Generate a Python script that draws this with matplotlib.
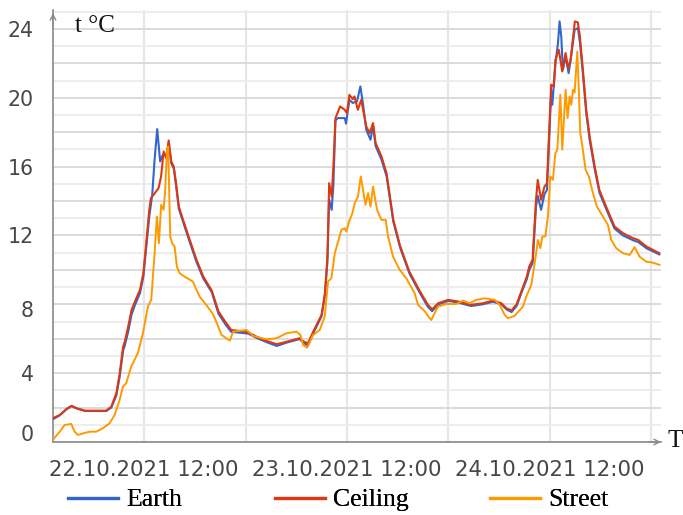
import matplotlib
matplotlib.use("Agg")
import matplotlib.pyplot as plt
from matplotlib.lines import Line2D
import matplotlib.transforms as mtransforms

# ---------------- data (hours since 22.10.2021 00:00, temperature °C) ----------------
t_earth = [1.3, 2.0, 2.8, 3.4, 4.0, 5.0, 7.5, 8.1, 8.7, 9.1, 9.5, 9.7, 10.1, 10.5, 10.9, 11.5, 11.9,
           12.2, 12.6, 12.95, 13.23, 13.54, 13.89, 14.21, 14.6, 14.9, 15.2, 15.5, 15.8, 16.1, 16.6,
           17.4, 18.2, 19.0, 20.0, 20.8, 21.6, 22.3, 23.3, 24.3, 25.3, 26.5, 27.7, 28.9, 30.4, 30.9,
           31.4, 32.0, 32.6, 33.0, 33.4, 33.7, 33.9, 34.2, 34.4, 34.65, 34.96, 35.75, 35.9, 36.3,
           36.7, 37.2, 37.6, 37.9, 38.3, 38.8, 39.1, 39.4, 40.1, 40.7, 41.5, 42.3, 43.4, 44.6, 45.6,
           46.1, 46.8, 48.0, 49.2, 50.7, 52.1, 53.3, 54.3, 54.9, 55.5, 56.1, 56.7, 57.3, 57.6, 58.0,
           58.1, 58.4, 58.6, 59.0, 59.4, 59.7, 59.9, 60.2, 60.33, 60.7, 61.0, 61.19, 61.39, 61.58,
           61.9, 62.26, 62.5, 62.97, 63.36, 63.6, 63.95, 64.35, 64.75, 65.35, 65.9, 66.7, 67.7,
           68.7, 69.9, 70.5, 71.5, 73.0]
v_earth = [1.35, 1.55, 1.92, 2.1, 1.95, 1.8, 1.8, 2.0, 2.7, 3.8, 5.3, 5.6, 6.4, 7.4, 7.95, 8.65, 9.6,
           11.1, 13.1, 14.36, 16.4, 18.18, 16.3, 16.69, 16.6, 17.36, 16.2, 15.9, 14.8, 13.55, 12.8,
           11.6, 10.45, 9.5, 8.7, 7.45, 6.85, 6.4, 6.35, 6.3, 6.05, 5.8, 5.58, 5.78, 5.98, 5.75,
           5.6, 6.3, 6.9, 7.3, 8.5, 10.5, 14.1, 13.49, 14.9, 18.7, 18.82, 18.82, 18.5, 19.88,
           19.7, 19.79, 20.66, 19.69, 18.14, 17.56, 18.4, 17.2, 16.4, 15.45, 12.8, 11.3, 9.8, 8.7, 7.85,
           7.6, 7.98, 8.2, 8.1, 7.9, 8.0, 8.15, 8.0, 7.7, 7.55, 7.9, 8.7, 9.45, 10.0, 10.4,
           11.2, 13.7, 14.3, 13.49, 14.4, 14.65, 17.0, 20.4, 19.59, 22.0, 23.18, 24.44, 23.56, 21.63,
           22.4, 21.43, 22.2, 23.95, 24.05, 23.2, 21.4, 19.1, 17.55, 15.85, 14.5, 13.55, 12.4,
           12.0, 11.72, 11.62, 11.25, 10.9]

t_ceiling = [1.3, 2.0, 2.8, 3.4, 4.0, 5.0, 7.5, 8.1, 8.7, 9.1, 9.5, 9.7, 10.1, 10.5, 10.9, 11.5, 11.9,
             12.2, 12.6, 12.8, 13.4, 13.7, 14.0, 14.3, 14.6, 14.9, 15.2, 15.5, 15.8, 16.1, 16.6, 17.4,
             18.2, 19.0, 20.0, 20.8, 21.6, 22.3, 23.3, 24.3, 25.3, 26.5, 27.7, 28.9, 30.4, 30.9, 31.4,
             32.0, 32.6, 33.0, 33.4, 33.7, 33.9, 34.2, 34.4, 34.65, 35.2, 35.75, 36.0, 36.3, 36.7,
             36.9, 37.3, 37.7, 38.3, 38.7, 39.1, 39.4, 40.1, 40.7, 41.5, 42.3, 43.4, 44.6, 45.6, 46.1,
             46.8, 48.0, 49.2, 50.7, 52.1, 53.3, 54.3, 54.9, 55.5, 56.1, 56.7, 57.3, 57.6, 58.0, 58.1,
             58.4, 58.6, 59.0, 59.4, 59.7, 59.9, 60.2, 60.5, 60.7, 61.1, 61.5, 61.9, 62.2, 62.5, 62.8,
             63.0, 63.35, 63.6, 63.95, 64.35, 64.75, 65.35, 65.9, 66.7, 67.7, 68.7, 69.9, 70.5, 71.5,
             73.0]
v_ceiling = [1.41, 1.57, 1.90, 2.09, 1.96, 1.82, 1.82, 2.05, 2.83, 3.99, 5.54, 5.83, 6.70, 7.67, 8.16,
             8.84, 9.81, 11.35, 13.49, 14.17, 14.55, 14.75, 15.43, 16.88, 16.49, 17.52, 16.30, 16.0,
             14.94, 13.68, 12.91, 11.74, 10.58, 9.61, 8.80, 7.58, 6.99, 6.51, 6.45, 6.38, 6.12, 5.87,
             5.68, 5.83, 6.03, 5.83, 5.74, 6.4, 6.99, 7.38, 8.64, 10.77, 15.04, 14.26, 16.0, 18.82,
             19.5, 19.3, 19.11, 20.17, 19.92, 20.08, 19.3, 19.88, 18.33, 17.95, 18.53, 17.37, 16.59,
             15.62, 12.91, 11.4, 9.9, 8.8, 7.97, 7.71, 8.06, 8.26, 8.16, 7.97, 8.06, 8.22, 8.06, 7.77,
             7.64, 8.0, 8.8, 9.6, 10.2, 10.6, 11.55, 14.07, 15.23, 14.07, 14.84, 15.04, 17.37, 20.76,
             20.66, 22.21, 22.79, 21.53, 22.6, 21.73, 22.21, 23.56, 24.44, 24.38, 23.56, 21.63, 19.3,
             17.75, 16.0, 14.65, 13.68, 12.52, 12.13, 11.84, 11.74, 11.35, 10.97]

t_street = [1.32, 2.0, 2.58, 3.36, 3.76, 4.15, 4.75, 5.54, 6.32, 7.11, 7.9, 8.5, 9.09, 9.48, 9.87,
            10.46, 11.25, 11.85, 12.44, 12.83, 13.23, 13.5, 13.74, 14.01, 14.3, 14.49, 14.69, 14.84,
            15.08, 15.31, 15.6, 15.87, 16.19, 16.78, 17.76, 18.56, 19.34, 20.05, 20.37, 21.16, 22.14,
            22.53, 24.12, 24.9, 26.48, 27.67, 28.85, 30.03, 30.51, 30.82, 31.29, 32.0, 32.79, 33.38,
            33.77, 34.17, 34.57, 34.96, 35.36, 35.75, 35.95, 36.26, 36.66, 36.93, 37.32, 37.64, 37.92,
            38.2, 38.51, 38.8, 39.1, 39.57, 40.09, 40.6, 40.88, 41.47, 42.26, 43.05, 44.03, 44.42,
            45.22, 45.81, 46.0, 46.4, 46.79, 47.79, 48.97, 49.75, 50.54, 51.33, 52.32, 53.5, 54.09,
            54.69, 55.07, 55.87, 56.85, 57.25, 57.84, 58.24, 58.63, 58.91, 59.15, 59.5, 59.81, 60.09,
            60.4, 60.69, 60.92, 61.28, 61.51, 61.71, 61.9, 62.14, 62.38, 62.58, 62.77, 62.97, 63.29,
            63.48, 63.64, 63.95, 64.27, 64.66, 65.14, 65.61, 66.32, 66.91, 67.31, 67.9, 68.69, 69.48,
            70.07, 70.66, 71.45, 72.23, 73.03]
v_street = [0.21, 0.6, 0.99, 1.05, 0.6, 0.41, 0.5, 0.6, 0.6, 0.8, 1.09, 1.57, 2.44, 3.22, 3.41,
            4.38, 5.16, 6.32, 7.87, 8.26, 10.97, 13.1, 11.55, 13.78, 13.49, 14.65, 16.88, 17.17,
            11.94, 11.55, 11.35, 10.19, 9.81, 9.61, 9.32, 8.45, 7.97, 7.5, 7.19, 6.22, 5.89,
            6.41, 6.51, 6.16, 5.97, 6.03, 6.32, 6.41, 6.22, 5.64, 5.48, 6.22, 6.51, 7.29,
            9.32, 9.52, 10.97, 11.65, 12.33, 12.42, 12.23, 12.81, 13.3, 13.88, 14.26, 15.43, 14.65,
            13.78, 14.46, 13.68, 14.84, 13.49, 12.91, 12.91, 11.94, 10.77, 10.0, 9.5, 8.64, 7.97,
            7.6, 7.19, 7.09, 7.48, 7.87, 8.02, 8.02, 8.22, 8.06, 8.26, 8.35, 8.26, 7.97,
            7.38, 7.19, 7.33, 7.87, 8.45, 9.13, 10.39, 11.74, 11.26, 11.94, 11.94, 13.1, 15.43,
            15.23, 16.78, 16.98, 20.17, 16.98, 18.72, 20.47, 18.82, 20.08, 19.59, 20.47, 20.3, 22.69,
            20.27, 17.95, 16.98, 15.81, 15.43, 14.46, 13.68, 13.1, 12.62, 11.74, 11.26, 10.97, 10.87,
            11.32, 10.77, 10.48, 10.42, 10.29]

series_names = ["Earth", "Ceiling", "Street"]
x_tick_hours = [12, 24, 36, 48, 60, 72]
x_tick_labels = ["22.10.2021 12:00", "", "23.10.2021 12:00", "", "24.10.2021 12:00", ""]
y_ticks = [0, 2, 4, 6, 8, 10, 12, 14, 16, 18, 20, 22, 24]
y_tick_labels = ["0", "", "4", "", "8", "", "12", "", "16", "", "20", "", "24"]
y_axis_label = "t °C"
x_axis_label = "T"

# ---------------- style ----------------
colors = ["#3366cc", "#dc3912", "#ff9900"]
serif = ["Liberation Serif", "DejaVu Serif"]

fig = plt.figure(figsize=(6.83, 5.15), dpi=100)
ax = fig.add_axes([53 / 683, 73 / 515, 608 / 683, 432 / 515])

ax.plot(t_earth, v_earth, color=colors[0], lw=1.5, label=series_names[0], zorder=3)
ax.plot(t_ceiling, v_ceiling, color=colors[1], lw=1.5, label=series_names[1], zorder=4)
ax.plot(t_street, v_street, color=colors[2], lw=1.4, label=series_names[2], zorder=5)

ax.set_xlim(1.2, 73.2)
ax.set_ylim(0, 25.1)

ax.set_xticks(x_tick_hours)
ax.set_xticklabels(x_tick_labels)
ax.set_yticks(y_ticks)
ax.set_yticklabels(y_tick_labels)
ax.set_yticks(range(0, 26), minor=True)

ax.tick_params(axis="both", which="both", length=0, labelcolor="#474747")
ax.tick_params(axis="y", pad=14, labelsize=14.8)
ax.tick_params(axis="x", pad=13, labelsize=15.3)

ax.grid(True, axis="y", which="major", color="#d8d8d8", lw=1.3, zorder=0)
ax.grid(True, axis="y", which="minor", color="#ececec", lw=1.3, zorder=0)
ax.grid(True, axis="x", which="major", color="#e6e6e6", lw=1.5, zorder=0)

for s in ["top", "right"]:
    ax.spines[s].set_visible(False)
for s in ["left", "bottom"]:
    ax.spines[s].set_color("#8a8a8a")
    ax.spines[s].set_linewidth(1.2)

# arrows at the axis ends
ax.annotate("", xy=(1.0, 0), xytext=(0.98, 0), xycoords="axes fraction",
            arrowprops=dict(arrowstyle="->", color="#8a8a8a", lw=1.0, shrinkA=0, shrinkB=0),
            annotation_clip=False)
ax.annotate("", xy=(0, 0.993), xytext=(0, 0.96), xycoords="axes fraction",
            arrowprops=dict(arrowstyle="->", color="#8a8a8a", lw=1.0, shrinkA=0, shrinkB=0),
            annotation_clip=False)

# shift the "0" and "8" labels like in the reference
for lab in ax.get_yticklabels():
    if lab.get_text() == "0":
        lab.set_transform(lab.get_transform() + mtransforms.ScaledTranslation(0, 9 / 100, fig.dpi_scale_trans))
    elif lab.get_text() == "8":
        lab.set_transform(lab.get_transform() + mtransforms.ScaledTranslation(0, -5 / 100, fig.dpi_scale_trans))

ax.text(0.036, 0.963, y_axis_label, transform=ax.transAxes, family=serif, fontsize=18,
        va="center", ha="left", color="#111111")
fig.text(667 / 683, 1 - 441 / 515, x_axis_label, family=serif, fontsize=18,
         va="center", ha="left", color="#111111")

# legend: one entry per position, as in the reference
legend_x = [68, 275, 490]
for name, col, lx in zip(series_names, colors, legend_x):
    leg = fig.legend([Line2D([], [], color=col, lw=2.3)], [name], loc="center left",
                     bbox_to_anchor=(lx / 683, 1 - 500 / 515), frameon=False,
                     prop={"family": serif, "size": 18.5}, handlelength=1.95,
                     handletextpad=0.3, borderpad=0, borderaxespad=0)
    fig.add_artist(leg)

fig.savefig("out.png", dpi=100)
